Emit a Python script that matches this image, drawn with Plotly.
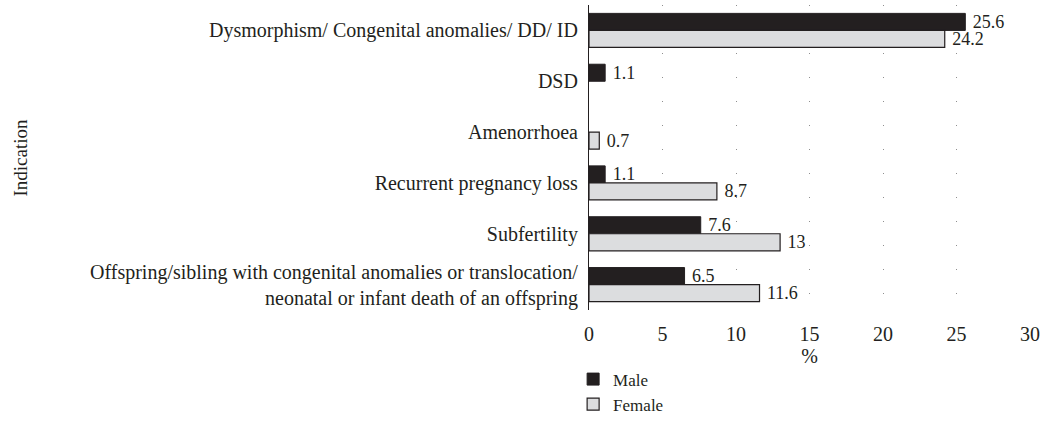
import plotly.graph_objects as go

categories = [
    "Dysmorphism/ Congenital anomalies/ DD/ ID",
    "DSD",
    "Amenorrhoea",
    "Recurrent pregnancy loss",
    "Subfertility",
    "Offspring/sibling with congenital anomalies or translocation/<br>neonatal or infant death of an offspring",
]
male = [25.6, 1.1, None, 1.1, 7.6, 6.5]
female = [24.2, None, 0.7, 8.7, 13, 11.6]
x_ticks = [0, 5, 10, 15, 20, 25, 30]

FONT = "Liberation Serif"
FS = 20
DARK = "#231f20"


def labels(vals):
    return [("" if v is None else "\u00a0" + f"{v:g}") for v in vals]


fig = go.Figure()
fig.add_trace(go.Bar(
    name="Male", y=categories, x=male, orientation="h",
    marker=dict(color=DARK, line=dict(color=DARK, width=1)),
    text=labels(male), textposition="outside", cliponaxis=False,
    constraintext="none",
    textfont=dict(family=FONT, size=FS - 2, color=DARK),
))
fig.add_trace(go.Bar(
    name="Female", y=categories, x=female, orientation="h",
    marker=dict(color="#dcdddf", line=dict(color=DARK, width=1.2)),
    text=labels(female), textposition="outside", cliponaxis=False,
    constraintext="none",
    textfont=dict(family=FONT, size=FS - 2, color=DARK),
))

fig.update_layout(
    width=1047, height=428,
    barmode="group", bargap=0.33, bargroupgap=0,
    plot_bgcolor="white", paper_bgcolor="white",
    font=dict(family=FONT, size=FS, color=DARK),
    margin=dict(l=589, r=17, t=5, b=115),
    showlegend=True,
    legend=dict(
        x=-0.036, xanchor="left", y=-0.369, yanchor="bottom",
        orientation="v", font=dict(family=FONT, size=FS - 3, color=DARK),
        tracegroupgap=0, itemwidth=30, bgcolor="rgba(0,0,0,0)",
    ),
    xaxis=dict(
        range=[0, 30], tickvals=x_ticks, ticks="", ticklabelstandoff=10,
        showline=False, automargin=False,
        showgrid=True, gridcolor="#8f8f8f", griddash="1px,23px", gridwidth=1,
        zeroline=False,
        title=dict(text="%", font=dict(family=FONT, size=FS, color=DARK), standoff=2),
        tickfont=dict(family=FONT, size=FS, color=DARK),
    ),
    yaxis=dict(
        autorange="reversed", showline=True, linecolor=DARK, linewidth=1.2,
        ticks="outside", ticklen=6, tickcolor="rgba(0,0,0,0)",
        showgrid=False, automargin=False,
        tickfont=dict(family=FONT, size=FS, color=DARK),
    ),
    annotations=[dict(
        text="Indication", textangle=-90, xref="paper", yref="paper",
        x=(20 - 589) / 441, y=0.5, xanchor="center", yanchor="middle",
        showarrow=False, font=dict(family=FONT, size=FS - 1, color=DARK),
    )],
)

fig.write_html(
    "out.html",
    config={"displayModeBar": False},
    post_script="document.body.style.margin='0';",
)
